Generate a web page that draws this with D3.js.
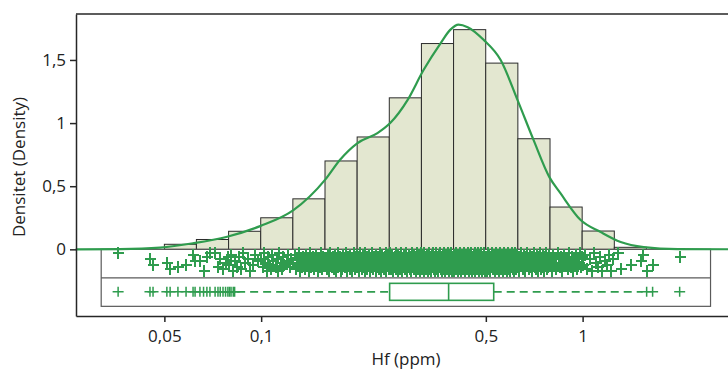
<!DOCTYPE html>
<html>
<head>
<meta charset="utf-8">
<script src="https://cdn.jsdelivr.net/npm/d3@7"></script>
<style>
  body { margin: 0; background: #fff; }
  svg { display: block; font-family: "Open Sans", sans-serif; }
</style>
</head>
<body>
<svg id="chart" width="728" height="369"></svg>
<script>
// histogram, density per log10 unit, bin edges in ppm
const binEdges = [0.0500, 0.0629, 0.0792, 0.0997, 0.1255, 0.1580, 0.1989, 0.2504,
                  0.3152, 0.3968, 0.4996, 0.6289, 0.7918, 0.9968, 1.2549, 1.5798];
const binDensity = [0.04, 0.078, 0.143, 0.25, 0.40, 0.70, 0.89, 1.20,
                    1.63, 1.74, 1.475, 0.876, 0.335, 0.145, 0.016];

// smoothed density curve
const curvePpm = [0.0265, 0.0364, 0.0485, 0.0614, 0.0784, 0.0993, 0.126, 0.158, 0.176, 0.199,
                  0.230, 0.252, 0.285, 0.320, 0.361, 0.388, 0.411, 0.439, 0.492, 0.556,
                  0.628, 0.704, 0.789, 0.853, 0.986, 1.138, 1.313, 1.549, 1.977, 3.2];
const curveDensity = [0, 0.002, 0.014, 0.048, 0.10, 0.184, 0.31, 0.55, 0.71, 0.84,
                      0.92, 1.0, 1.18, 1.42, 1.63, 1.74, 1.78, 1.76, 1.66, 1.50,
                      1.18, 0.865, 0.57, 0.445, 0.232, 0.137, 0.058, 0.018, 0.002, 0];

// box plot (ppb): Q1, median, Q3 and whisker ends
const boxQuartiles = [251, 383, 529];
const boxWhiskers = [84.2, 1538];

const xTicks = [0.05, 0.1, 0.5, 1];
const xTickLabels = ['0,05', '0,1', '0,5', '1'];
const yTicks = [0, 0.5, 1, 1.5];
const yTickLabels = ['0', '0,5', '1', '1,5'];

// single observations, "ppb:jitter" (jitter 0 = top of strip, 9 = bottom)
const obsLow = `35.9:0 45.1:3 46.1:6 50.9:5 52.1:8 55.1:7 58.4:6 61.4:1 62.3:4
  64.5:4 66.2:9 67.8:2 69.3:0 71.9:0 73.4:7 74.6:3 76.1:8 77.5:5 78.8:2
  79.7:6 80.6:1 81.9:9 82.7:4 84.2:7 85.5:2 86.8:8 87.9:0 89.3:5 91.0:3 92.4:9 94.1:6 95.8:1 97.9:4`;
const obsRise = `100:3 101:7 102:0 103:5 104:9 105:2 106:6 107:8 108:1 109:4 111:7 112:3 113:9 114:0
  115:5 116:8 117:2 118:6 120:4 121:1 123:7 124:3
  126:5 127:1 128:8 129:3 130:6 131:0 132:9 133:4 134:7 135:2 136:5 137:8 138:1 139:6 140:3 141:9
  142:0 143:7 144:4 145:2 146:8 147:5 148:1 149:6 150:9 151:3 152:7 153:0 154:4 155:8 156:2 157:6
  159:4 160:8 161:1 161.5:6 162:3 163:9 164:0 165:5 166:7 167:2 168:8 169:4 170:1 170.5:9 171:6
  172:3 173:0 174:7 175:5 176:2 177:9 178:4 179:8 180:1 180.5:6 181:3 182:7 183:0 184:5 185:9
  186:2 187:6 188:4 188.5:8 189:1 190:7 191:3 192:9 193:5 194:0 195:6 195.5:2 196:8 197:4 198:1
  199:7 200:2 201:5 202:9 203:0 204:6 205:3 206:8 207:1 208:4 209:7 210:0 211:9 212:5 213:2 214:8
  215:6 216:3 217:1 218:9 219:4 220:7 221:0 222:5 223:8 224:2 225:6 226:3 227:9 228:1 229:4 230:7
  231:2 232:8 233:5 234:0 235:6 236:9 237:3 238:1 239:7 240:4 241:8 242:2 243:5 244:0 245:9 246:6
  247:3 248:1 249:8 250:4`;
const obsCore = `251:5 252:0 253:8 254:3 255:6 256:1 257:9 258:4 259:7 260:2 261:5 262:8 263:0 264:6
  265:3 266:9 267:1 268:7 269:4 270:2 271:8 272:5 273:0 274:6 275:9 276:3 277:7 278:1 279:4 280:8
  281:2 282:6 283:0 284:9 285:5 286:3 287:7 288:1 289:4 290:8 291:6 292:2 293:9 294:0 295:5 296:3
  297:7 298:1 299:8 300:4 301:6 302:2 303:9 304:5 305:0 306:7 307:3 308:8 309:1 310:6 311:4 312:9
  313:2 314:5 315:0
  316:3 317:8 318:1 319:6 320:9 321:4 322:0 323:7 324:2 325:5 326:8 327:3 328:6 329:1 330:9 330.5:4
  331:7 332:0 333:5 334:2 335:8 336:6 337:3 338:9 339:1 340:4 341:7 342:0 343:5 344:8 345:2 346:6
  347:9 348:3 349:1 350:7 350.5:4 351:0 352:8 353:5 354:2 355:6 356:9 357:3 358:1 359:7 360:4 361:0
  362:8 363:5 364:2 365:9 366:6 367:3 368:1 369:7 370:4 370.5:8 371:0 372:5 373:2 374:9 375:6 376:3
  377:1 378:8 379:4 380:7 381:0 382:5 383:9 384:2 385:6 386:3 387:8 388:1 389:4 390:7 390.5:0 391:5
  392:9 393:2 394:6 395:3 396:8
  397:4 398:9 399:1 401:6 402:3 403:8 404:0 405:5 406:7 407:2 409:9 410:4 411:1 412:6 413:8 414:3
  415:0 417:5 418:7 419:2 420:9 421:4 422:6 423:1 425:8 426:3 427:0 428:5 429:7 430:2 431:9 433:6
  434:4 435:1 436:8 437:3 438:5 439:0 441:7 442:2 443:9 444:6 445:4 446:1 447:8 449:3 450:5 451:0
  452:7 453:9 454:2 455:6 457:4 458:1 459:8 460:3 461:5 462:0 463:9 465:7 466:2 467:6 468:4 469:1
  470:8 471:3 473:0 474:5 475:9 476:7 477:2 478:4 479:6 481:1 482:8 483:3 484:0 485:5 486:9 487:7
  489:2 490:4 491:6 492:1 493:8 494:3 495:0 497:5 498:9 499:7
  500:2 502:7 503:4 505:9 506:0 508:6 510:3 511:8 513:1 514:5 516:9 518:2 519:7 521:4 522:0 524:6
  526:8 527:3 529:1 530:5 532:9 534:2 535:7 537:4 538:0 540:6 542:8 543:3 545:1 546:5 548:9 550:2
  551:7 553:4 554:0 556:6 558:8 559:3 561:1 562:5 564:9 566:2 567:7 569:4 570:0 572:6 574:8 575:3
  577:1 578:5 580:9 582:2 583:7 585:4 586:0 588:6 590:8 591:3 593:1 594:5 596:9 598:2 599:7 601:4
  602:0 604:6 606:8 607:3 609:1 610:5 612:9 614:2 615:7 617:4 618:0 620:6 622:8 623:3 625:1 627:5`;
const obsFall = `630:7 633:2 636:9 640:4 643:0 646:6 649:3 653:8 656:1 659:5 662:9 666:2 669:6 672:0
  675:4 679:8 682:3 685:7 688:1 692:5 695:9 698:2 701:6 705:4 708:0 711:7 714:3 718:8 721:1 724:5
  727:9 731:2 734:6 737:0 740:4 744:8 747:3 750:7 753:1 757:5 760:9 763:2 766:6 770:0 773:4 776:8
  779:3 783:7 786:1 789:5
  795:4 802:9 808:1 815:6 822:3 829:8 836:0 843:5 850:7 857:2 864:9 871:4 878:1 885:6 892:3 899:8
  906:0 913:5 920:7 927:2 934:9 941:4 948:6 955:1 962:8 969:3 976:5 983:0 990:7 995:2`;
const obsHigh = `1003:6 1019:1 1034:8 1052:3 1068:9 1085:0 1101:5 1119:7 1136:2 1152:9 1171:4 1188:6
  1205:1 1222:9 1241:3 1285:0 1313:8 1412:6 1516:4 1538:1 1582:9 1651:6 2004:2`;

function parseObs(s) {
  return s.trim().split(/\s+/).map(t => {
    const [v, j] = t.split(':');
    return { ppm: +v / 1000, j: +j };
  });
}
const obs = [obsLow, obsRise, obsCore, obsFall, obsHigh].flatMap(parseObs);

const green = '#2f9c4e';
const svg = d3.select('#chart');

const x = d3.scaleLog().domain([0.02655, 3.2]).range([76, 745]);
const y = d3.scaleLinear().domain([-0.528, 1.864]).range([316, 14]);
const y0 = y(0);

// histogram
svg.append('g')
  .selectAll('rect')
  .data(binDensity)
  .join('rect')
  .attr('x', (d, i) => x(binEdges[i]))
  .attr('width', (d, i) => x(binEdges[i + 1]) - x(binEdges[i]))
  .attr('y', d => y(d))
  .attr('height', d => y0 - y(d))
  .attr('fill', '#e3e7d0')
  .attr('stroke', '#2b2b2b')
  .attr('stroke-width', 1);

// strip + box frame
const stripH = 28.5;
const frameL = x(0.0318), frameR = x(2.5);
svg.append('rect')
  .attr('x', frameL).attr('y', y0)
  .attr('width', frameR - frameL).attr('height', stripH * 2)
  .attr('fill', 'none').attr('stroke', '#5a5a5a').attr('stroke-width', 1.2);
svg.append('line')
  .attr('x1', frameL).attr('x2', frameR)
  .attr('y1', y0 + stripH).attr('y2', y0 + stripH)
  .attr('stroke', '#5a5a5a').attr('stroke-width', 1.2);

const cross = 'M-5.5,0H5.5M0,-5V5';
const stripCross = 'M-5,0H6M0,-6V6';
// jitter levels two pixels apart so that the dense middle fills in
const jy = d3.scaleLinear().domain([0, 9]).range([Math.round(y0) + 4, Math.round(y0) + 22]);

// jittered observations
svg.append('g')
  .attr('shape-rendering', 'crispEdges')
  .selectAll('path')
  .data(obs)
  .join('path')
  .attr('transform', d => `translate(${Math.round(x(d.ppm))},${jy(d.j)})`)
  .attr('d', stripCross)
  .attr('fill', 'none')
  .attr('stroke', green)
  .attr('stroke-width', 2);

// box plot row
const rowY = y0 + stripH + 14;
const whisk = svg.append('g')
  .attr('stroke', green).attr('stroke-width', 1.6).attr('stroke-dasharray', '8,5');
whisk.append('line')
  .attr('x1', x(boxWhiskers[0] / 1000)).attr('x2', x(boxQuartiles[0] / 1000))
  .attr('y1', rowY).attr('y2', rowY);
whisk.append('line')
  .attr('x1', x(boxQuartiles[2] / 1000)).attr('x2', x(boxWhiskers[1] / 1000))
  .attr('y1', rowY).attr('y2', rowY);

svg.append('rect')
  .attr('x', x(boxQuartiles[0] / 1000))
  .attr('width', x(boxQuartiles[2] / 1000) - x(boxQuartiles[0] / 1000))
  .attr('y', rowY - 8.5).attr('height', 17)
  .attr('fill', '#fff').attr('stroke', green).attr('stroke-width', 1.6);
svg.append('line')
  .attr('x1', x(boxQuartiles[1] / 1000)).attr('x2', x(boxQuartiles[1] / 1000))
  .attr('y1', rowY - 8.5).attr('y2', rowY + 8.5)
  .attr('stroke', green).attr('stroke-width', 1.6);

const outliers = obs.filter(d => d.ppm < boxWhiskers[0] / 1000 || d.ppm > boxWhiskers[1] / 1000);
svg.append('g')
  .selectAll('path')
  .data(outliers)
  .join('path')
  .attr('transform', d => `translate(${x(d.ppm)},${rowY})`)
  .attr('d', cross)
  .attr('fill', 'none')
  .attr('stroke', green)
  .attr('stroke-width', 1.5);

// density curve
const line = d3.line()
  .x(d => x(d[0]))
  .y(d => y(d[1]))
  .curve(d3.curveMonotoneX);
svg.append('path')
  .datum(curvePpm.map((p, i) => [p, curveDensity[i]]))
  .attr('d', line)
  .attr('fill', 'none')
  .attr('stroke', green)
  .attr('stroke-width', 2.2);

// axes
const xAxis = svg.append('g')
  .attr('transform', 'translate(0,316)')
  .call(d3.axisBottom(x).tickValues(xTicks)
    .tickFormat((d, i) => xTickLabels[i]).tickSize(6).tickSizeOuter(0).tickPadding(8));
const yAxis = svg.append('g')
  .attr('transform', 'translate(76,0)')
  .call(d3.axisLeft(y).tickValues(yTicks)
    .tickFormat((d, i) => yTickLabels[i]).tickSize(6).tickSizeOuter(0).tickPadding(4));
[xAxis, yAxis].forEach(g => {
  g.selectAll('path, line').attr('stroke', '#262626').attr('stroke-width', 1.5);
  g.selectAll('text').attr('fill', '#222').style('font-size', '17px')
    .style('font-family', '"Open Sans", sans-serif');
});
svg.append('line')
  .attr('x1', 76).attr('x2', 745).attr('y1', 14).attr('y2', 14)
  .attr('stroke', '#262626').attr('stroke-width', 1.5);

svg.append('text')
  .attr('x', 406).attr('y', 365)
  .attr('text-anchor', 'middle')
  .attr('fill', '#222').style('font-size', '17px')
  .text('Hf (ppm)');
svg.append('text')
  .attr('transform', 'translate(25,167) rotate(-90)')
  .attr('text-anchor', 'middle')
  .attr('fill', '#222').style('font-size', '17px')
  .text('Densitet (Density)');
</script>
</body>
</html>
